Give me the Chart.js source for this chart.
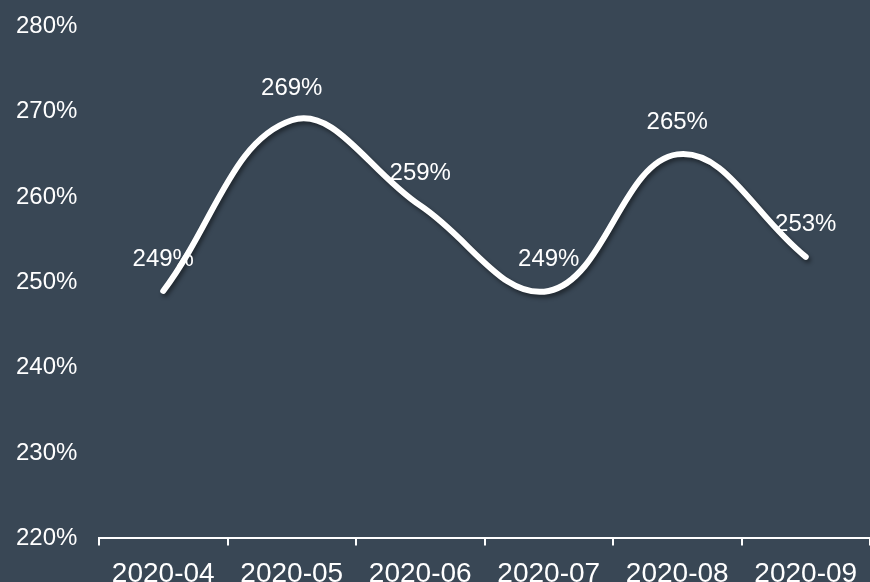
<!DOCTYPE html>
<html>
<head>
<meta charset="utf-8">
<script src="https://cdn.jsdelivr.net/npm/chart.js@4"></script>
<style>
  html, body { margin: 0; padding: 0; background: #394755; overflow: hidden; }
  #wrap { width: 870px; height: 611px; position: relative; top: -8px; }
</style>
</head>
<body>
<div id="wrap"><canvas id="line-chart"></canvas></div>
<script>
const months = ["2020-04", "2020-05", "2020-06", "2020-07", "2020-08", "2020-09"];
const ratio = [249, 269, 259, 249, 265, 253];
const yMin = 220;
const yMax = 280;
const yStep = 10;

const FONT = "'Liberation Sans', Arial, sans-serif";

// line shadow
const shadowPlugin = {
  id: "shadow",
  beforeDatasetDraw: (chart) => {
    const ctx = chart.ctx;
    ctx.save();
    ctx.shadowColor = "rgba(0,0,0,0.45)";
    ctx.shadowBlur = 4;
    ctx.shadowOffsetX = 2;
    ctx.shadowOffsetY = 3;
  },
  afterDatasetDraw: (chart) => {
    chart.ctx.restore();
  },
};

// value labels above points
const valueLabels = {
  id: "valueLabels",
  afterDatasetsDraw: (chart) => {
    const ctx = chart.ctx;
    const meta = chart.getDatasetMeta(0);
    ctx.save();
    ctx.font = "24px " + FONT;
    ctx.fillStyle = "#ffffff";
    ctx.textAlign = "center";
    ctx.textBaseline = "middle";
    meta.data.forEach((pt, i) => {
      ctx.fillText(chart.data.datasets[0].data[i] + "%", pt.x, pt.y - 32);
    });
    ctx.restore();
  },
};

new Chart(document.getElementById("line-chart"), {
  type: "line",
  data: {
    labels: months,
    datasets: [
      {
        label: "ratio",
        data: ratio,
        borderColor: "#ffffff",
        borderWidth: 6,
        borderCapStyle: "round",
        tension: 0.4,
        pointRadius: 0,
        fill: false,
      },
    ],
  },
  options: {
    responsive: true,
    maintainAspectRatio: false,
    animation: false,
    layout: { padding: { left: 16, right: 0, top: 3, bottom: 0 } },
    plugins: { legend: { display: false }, tooltip: { enabled: false } },
    scales: {
      x: {
        offset: true,
        grid: {
          display: true,
          offset: true,
          drawOnChartArea: false,
          color: "#ffffff",
          tickLength: 7,
          lineWidth: 2,
        },
        border: { display: true, color: "#ffffff", width: 2 },
        ticks: { color: "#ffffff", font: { family: FONT, size: 28 }, padding: 12, maxRotation: 0 },
      },
      y: {
        min: yMin,
        max: yMax,
        grid: { display: false },
        border: { display: false },
        afterFit: (scale) => {
          scale.width = 83;
        },
        ticks: {
          stepSize: yStep,
          color: "#ffffff",
          font: { family: FONT, size: 24 },
          crossAlign: "far",
          padding: 20,
          callback: (v) => v + "%",
        },
      },
    },
  },
  plugins: [shadowPlugin, valueLabels],
});
</script>
</body>
</html>
